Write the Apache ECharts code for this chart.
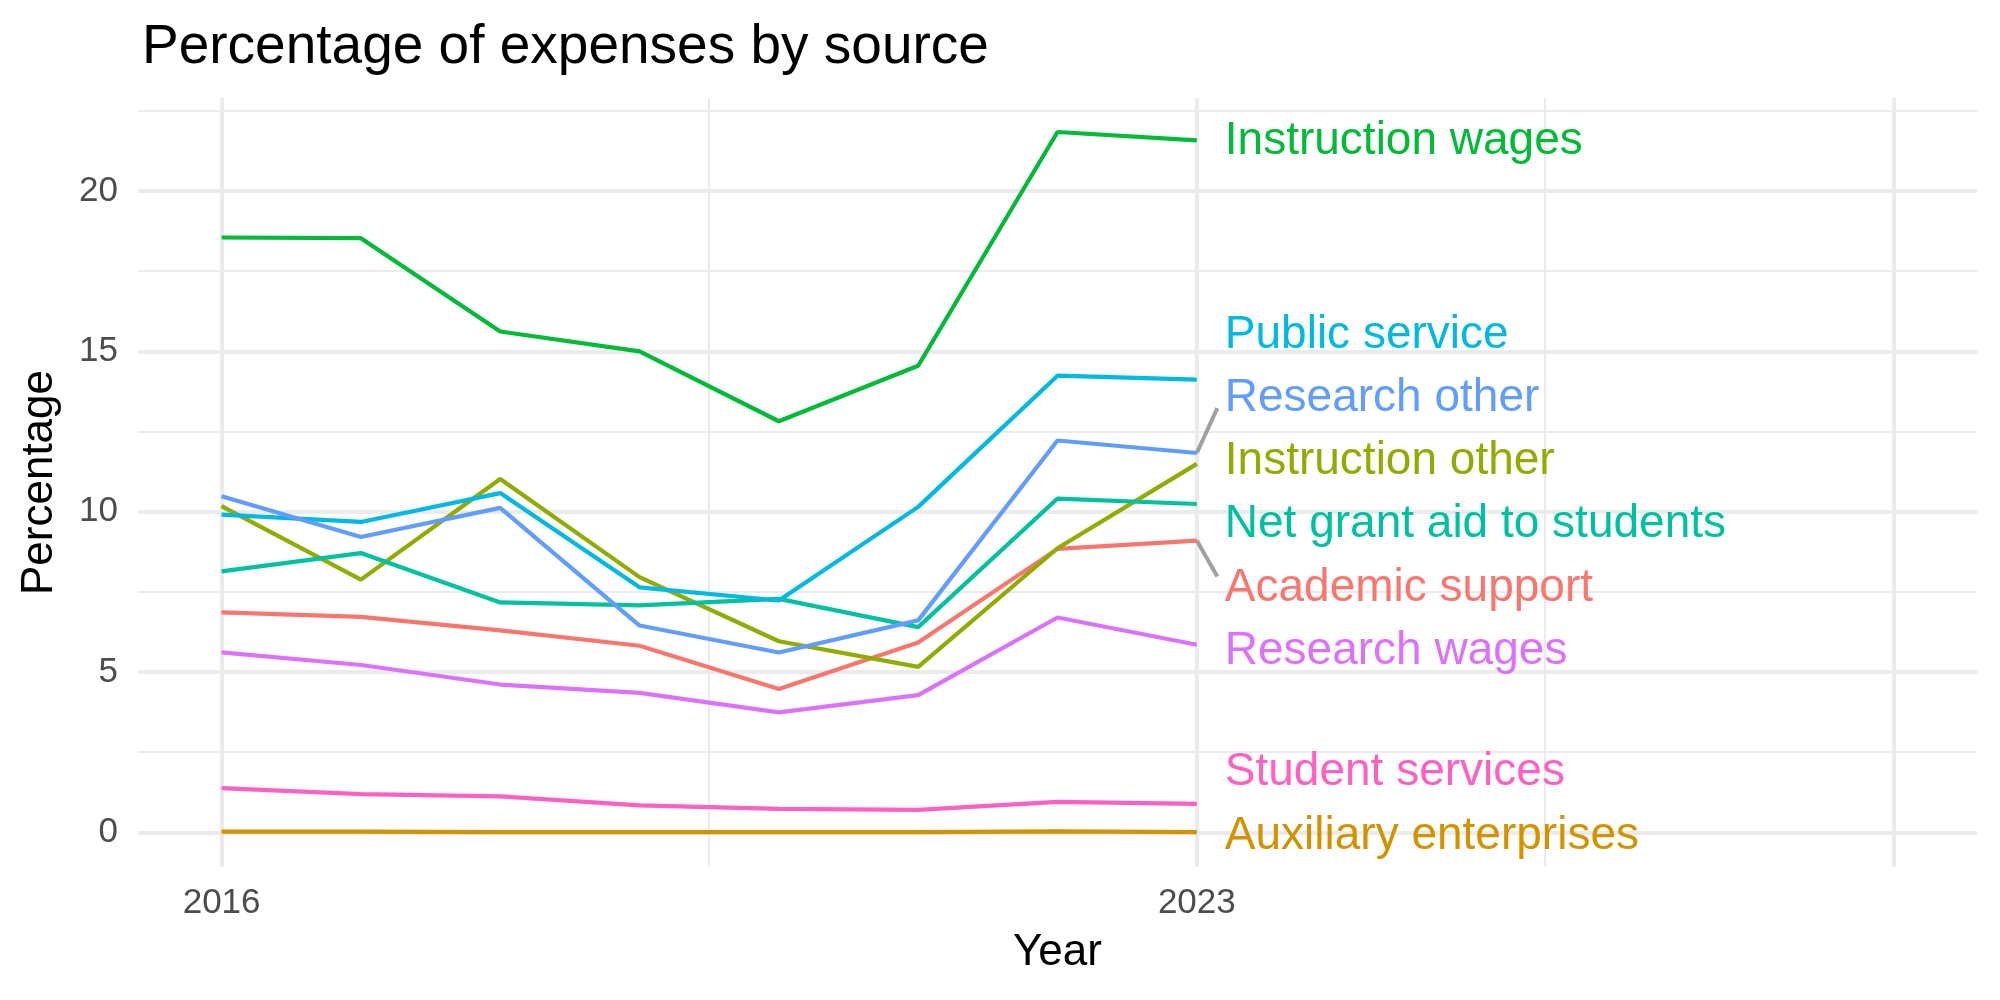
<!DOCTYPE html>
<html>
<head>
<meta charset="utf-8">
<title>Percentage of expenses by source</title>
<script src="https://cdn.jsdelivr.net/npm/echarts@6/dist/echarts.min.js"></script>
<style>
html,body{margin:0;padding:0;background:#fff;}
.chart{width:2000px;height:1000px;}
</style>
</head>
<body>
<div class="chart"></div>
<script>
var years = [2016, 2017, 2018, 2019, 2020, 2021, 2022, 2023];

var names = ['Academic support', 'Auxiliary enterprises', 'Instruction other', 'Instruction wages',
    'Net grant aid to students', 'Public service', 'Research other', 'Research wages', 'Student services'];

var academicSupport  = [6.86, 6.72, 6.30, 5.82, 4.47, 5.92, 8.84, 9.10];
var auxiliary        = [0.02, 0.02, 0.01, 0.01, 0.01, 0.01, 0.03, 0.01];
var instructionOther = [10.17, 7.88, 11.02, 7.96, 5.96, 5.16, 8.86, 11.49];
var instructionWages = [18.55, 18.53, 15.62, 15.00, 12.82, 14.55, 21.84, 21.58];
var netGrantAid      = [8.14, 8.71, 7.17, 7.08, 7.28, 6.40, 10.41, 10.24];
var publicService    = [9.91, 9.68, 10.58, 7.64, 7.23, 10.15, 14.24, 14.12];
var researchOther    = [10.48, 9.21, 10.12, 6.45, 5.61, 6.61, 12.22, 11.83];
var researchWages    = [5.61, 5.22, 4.61, 4.35, 3.74, 4.28, 6.70, 5.85];
var studentServices  = [1.38, 1.19, 1.12, 0.84, 0.73, 0.70, 0.95, 0.89];

// where the repelled labels ended up (y value), same order as names
var labelY = [7.61, -0.13, 11.57, 21.55, 9.60, 15.50, 13.55, 5.65, 1.86];

// leader segments drawn by the repel step
var leaderResearchOther = [[2023, 11.83], [2023.147, 13.23]];
var leaderAcademic = [[2023, 9.10], [2023.147, 7.98]];

var yTicks = [0, 5, 10, 15, 20];
var xTicks = [2016, 2023];

window.onload = function () {

var colors = ['#F8766D', '#D39200', '#93AA00', '#00BA38', '#00C19F', '#00B9E3', '#619CFF', '#DB72FB', '#FF61C3'];
var values = [academicSupport, auxiliary, instructionOther, instructionWages, netGrantAid,
    publicService, researchOther, researchWages, studentServices];
var font = "'Liberation Sans', Arial, Helvetica, sans-serif";
var grid = '#EBEBEB';

function pairs(arr) {
    var out = [];
    for (var i = 0; i < arr.length; i++) {
        out.push([years[i], arr[i]]);
    }
    return out;
}

// panel grid lines (theme_minimal look)
var gridLines = [];
[2.5, 7.5, 12.5, 17.5, 22.5].forEach(function (v) {
    gridLines.push({yAxis: v, lineStyle: {color: grid, width: 2.1, type: 'solid'}});
});
yTicks.forEach(function (v) {
    gridLines.push({yAxis: v, lineStyle: {color: grid, width: 4.2, type: 'solid'}});
});
[2019.5, 2025.5].forEach(function (v) {
    gridLines.push({xAxis: v, lineStyle: {color: grid, width: 2.1, type: 'solid'}});
});
[2016, 2023, 2028].forEach(function (v) {
    gridLines.push({xAxis: v, lineStyle: {color: grid, width: 4.2, type: 'solid'}});
});

var series = [{
    type: 'line',
    name: 'grid',
    z: 0,
    silent: true,
    symbol: 'none',
    lineStyle: {width: 0, opacity: 0},
    data: [[2016, 0], [2023, 0]],
    markLine: {
        silent: true,
        symbol: ['none', 'none'],
        label: {show: false},
        animation: false,
        z: 0,
        data: gridLines
    }
}];

for (var i = 0; i < names.length; i++) {
    series.push({
        type: 'line',
        name: names[i],
        z: 3,
        symbol: 'none',
        smooth: false,
        lineStyle: {color: colors[i], width: 4.2},
        itemStyle: {color: colors[i]},
        data: pairs(values[i])
    });
}

[leaderResearchOther, leaderAcademic].forEach(function (seg) {
    series.push({
        type: 'line',
        z: 2,
        symbol: 'none',
        silent: true,
        lineStyle: {color: '#A0A0A0', width: 4},
        data: seg
    });
});

var labelData = [];
for (var k = 0; k < names.length; k++) {
    labelData.push({
        name: names[k],
        value: [2023, labelY[k]],
        label: {color: colors[k]}
    });
}
series.push({
    type: 'scatter',
    z: 4,
    symbolSize: 0,
    silent: true,
    itemStyle: {opacity: 1},
    data: labelData,
    label: {
        show: true,
        position: 'right',
        distance: 28,
        opacity: 1,
        formatter: '{b}',
        fontFamily: font,
        fontSize: 46
    }
});

var chart = echarts.init(document.querySelector('.chart'));
chart.setOption({
    animation: false,
    backgroundColor: '#fff',
    title: {
        text: 'Percentage of expenses by source',
        left: 137,
        top: 15,
        textStyle: {color: '#000', fontFamily: font, fontSize: 55, fontWeight: 'normal'}
    },
    grid: {left: 138, right: 23, top: 98, bottom: 133},
    xAxis: {
        type: 'value',
        min: 2015.4,
        max: 2028.6,
        name: 'Year',
        nameLocation: 'middle',
        nameGap: 64,
        nameTextStyle: {color: '#000', fontFamily: font, fontSize: 44},
        axisLine: {show: false},
        axisTick: {show: false},
        splitLine: {show: false},
        axisLabel: {
            customValues: xTicks,
            color: '#4D4D4D',
            fontFamily: font,
            fontSize: 35,
            margin: 19,
            formatter: function (v) { return String(v); }
        }
    },
    yAxis: {
        type: 'value',
        min: -1.08,
        max: 22.9,
        name: 'Percentage',
        nameLocation: 'middle',
        nameRotate: 90,
        nameGap: 76,
        nameTextStyle: {color: '#000', fontFamily: font, fontSize: 44},
        axisLine: {show: false},
        axisTick: {show: false},
        splitLine: {show: false},
        axisLabel: {
            customValues: yTicks,
            color: '#4D4D4D',
            fontFamily: font,
            fontSize: 35,
            margin: 20
        }
    },
    series: series
});

};
</script>
</body>
</html>
